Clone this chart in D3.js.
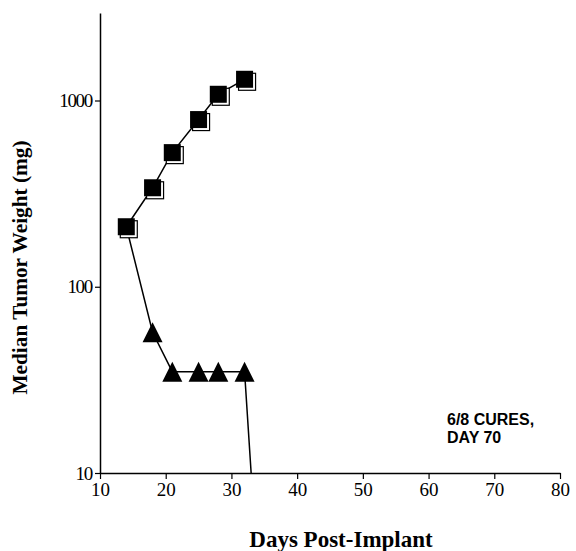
<!DOCTYPE html>
<html>
<head>
<meta charset="utf-8">
<script src="https://cdn.jsdelivr.net/npm/d3@7"></script>
<style>
  html, body { margin: 0; padding: 0; background: #fff; }
  svg { display: block; }
</style>
</head>
<body>
<svg id="chart" width="576" height="551"></svg>
<script>
// ---- data ----
const xTicks = [10, 20, 30, 40, 50, 60, 70, 80];
const yTicks = [10, 100, 1000];
const controlDays = [14, 18, 21, 25, 28, 32];
const controlWeights = [210, 340, 525, 790, 1080, 1300];
const treatedDays = [14, 18, 21, 25, 28, 32, 33];
const treatedWeights = [210, 57, 35, 35, 35, 35, 10];
const treatedMarked = [false, true, true, true, true, true, false];
const annotationLines = ["6/8 CURES,", "DAY 70"];
const xTitle = "Days Post-Implant";
const yTitle = "Median Tumor Weight (mg)";

// ---- layout ----
const svg = d3.select("#chart");
const x = d3.scaleLinear().domain([10, 80]).range([100, 560]);
const y = d3.scaleLog().domain([10, 2950]).range([473, 13]);
const serif = "'Liberation Serif', 'Times New Roman', serif";
const sans = "'Liberation Sans', Arial, sans-serif";

// axes
const xAxis = svg.append("g")
  .attr("transform", `translate(0,${y(10)})`)
  .call(d3.axisBottom(x).tickValues(xTicks).tickFormat(d3.format("d"))
    .tickSize(6).tickSizeOuter(0).tickPadding(4));
xAxis.attr("font-family", null).attr("font-size", null);
xAxis.select(".domain").attr("stroke", "#000").attr("stroke-width", 1.5);
xAxis.selectAll(".tick line").attr("stroke", "#000").attr("stroke-width", 1.2);
xAxis.selectAll(".tick text")
  .style("font-family", serif).style("font-size", "19px").attr("fill", "#000");

const yAxis = svg.append("g")
  .attr("transform", `translate(${x(10)},0)`)
  .call(d3.axisLeft(y).tickValues(yTicks).tickFormat(d3.format("d"))
    .tickSize(5).tickSizeOuter(0).tickPadding(3));
yAxis.attr("font-family", null).attr("font-size", null);
yAxis.select(".domain").attr("stroke", "#000").attr("stroke-width", 1.5);
yAxis.selectAll(".tick line").attr("stroke", "#000").attr("stroke-width", 1.2);
yAxis.selectAll(".tick text")
  .style("font-family", serif).style("font-size", "19px")
  .style("letter-spacing", "-1.3px").attr("fill", "#000");

// lines
const line = d3.line().x(d => x(d[0])).y(d => y(d[1]));
const treatedPts = treatedDays.map((d, i) => [d, treatedWeights[i]]);
const controlPts = controlDays.map((d, i) => [d, controlWeights[i]]);

svg.append("path").datum(treatedPts).attr("d", line)
  .attr("fill", "none").attr("stroke", "#000").attr("stroke-width", 1.5);
svg.append("path").datum(controlPts).attr("d", line)
  .attr("fill", "none").attr("stroke", "#000").attr("stroke-width", 1.5);

// triangles
const tri = "M0,-10L10,10L-10,10Z";
svg.append("g").selectAll("path")
  .data(treatedPts.filter((d, i) => treatedMarked[i]))
  .join("path")
  .attr("transform", d => `translate(${x(d[0])},${y(d[1])})`)
  .attr("d", tri)
  .attr("fill", "#000");

// squares with shadow outline
const s = 17;
const sq = svg.append("g").selectAll("g").data(controlPts).join("g")
  .attr("transform", d => `translate(${x(d[0])},${y(d[1])})`);
sq.append("rect")
  .attr("x", -s / 2 + 2.5).attr("y", -s / 2 + 2.5).attr("width", s).attr("height", s)
  .attr("fill", "#fff").attr("stroke", "#000").attr("stroke-width", 1.2);
sq.append("rect")
  .attr("x", -s / 2).attr("y", -s / 2).attr("width", s).attr("height", s)
  .attr("fill", "#000");

// annotation
svg.append("g").selectAll("text").data(annotationLines).join("text")
  .attr("x", 447).attr("y", (d, i) => 425 + i * 17.5)
  .style("font-family", sans).style("font-weight", "bold").style("font-size", "16px")
  .attr("fill", "#000")
  .text(d => d);

// titles
svg.append("text")
  .attr("x", 341).attr("y", 547)
  .attr("text-anchor", "middle")
  .style("font-family", serif).style("font-weight", "bold").style("font-size", "23px")
  .attr("fill", "#000")
  .text(xTitle);

svg.append("text")
  .attr("transform", "translate(27,267.5) rotate(-90)")
  .attr("text-anchor", "middle")
  .attr("textLength", 254).attr("lengthAdjust", "spacingAndGlyphs")
  .style("font-family", serif).style("font-weight", "bold").style("font-size", "22px")
  .attr("fill", "#000")
  .text(yTitle);
</script>
</body>
</html>
